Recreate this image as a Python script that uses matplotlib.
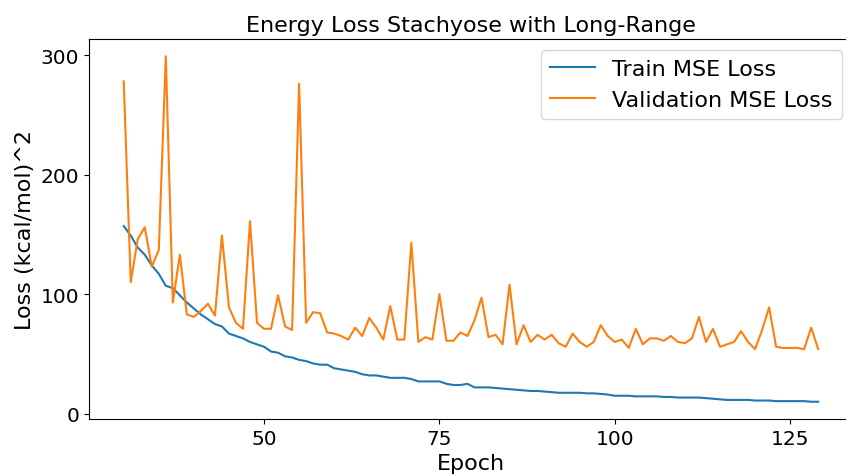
import numpy as np
import matplotlib
matplotlib.use('Agg')
import matplotlib.pyplot as plt
from matplotlib.ticker import MultipleLocator

epochs = np.arange(30, 130)

train_loss = [157, 149, 139, 133, 124, 117, 107, 105, 99, 93,
              88, 83, 79, 75, 73, 67, 65, 63, 60, 58,
              56, 52, 51, 48, 47, 45, 44, 42, 41, 41,
              38, 37, 36, 35, 33, 32, 32, 31, 30, 30,
              30, 29, 27, 27, 27, 27, 25, 24, 24, 25,
              22, 22, 22, 21.5, 21, 20.5, 20, 19.5, 19, 19,
              18.5, 18, 17.5, 17.5, 17.5, 17.5, 17, 17, 16.5, 16,
              15, 15, 15, 14.5, 14.5, 14.5, 14.5, 14, 14, 13.5,
              13.5, 13.5, 13.5, 13, 12.5, 12, 11.5, 11.5, 11.5, 11.5,
              11, 11, 11, 10.5, 10.5, 10.5, 10.5, 10.5, 10, 10]

val_loss = [278, 110, 146, 156, 123, 137, 299, 93, 133, 83,
            81, 86, 92, 82, 149, 89, 76, 71, 161, 76,
            71, 71, 99, 73, 70, 276, 76, 85, 84, 68,
            67, 65, 62, 72, 65, 80, 72, 62, 90, 62,
            62, 143, 60, 64, 62, 100, 61, 61, 68, 65,
            78, 97, 64, 66, 58, 108, 58, 74, 60, 66,
            62, 66, 59, 56, 67, 60, 56, 60, 74, 65,
            60, 62, 55, 71, 58, 63, 63, 61, 65, 60,
            59, 63, 81, 60, 71, 56, 58, 60, 69, 60,
            54, 70, 89, 56, 55, 55, 55, 54, 72, 54]

fig = plt.figure(figsize=(8.46, 4.77), dpi=100)
ax = fig.add_axes([0.1052, 0.1195, 0.903, 0.7966])
ax.plot(epochs, train_loss, label='Train MSE Loss')
ax.plot(epochs, val_loss, label='Validation MSE Loss')
ax.set_xlabel('Epoch', fontsize=16)
ax.set_ylabel('Loss (kcal/mol)^2', fontsize=16)
ax.set_title('Energy Loss Stachyose with Long-Range', fontsize=16)
ax.xaxis.set_major_locator(MultipleLocator(25))
ax.yaxis.set_major_locator(MultipleLocator(100))
ax.tick_params(labelsize=14.5)
ax.legend(loc='upper right', fontsize=16)
fig.savefig('out.png', dpi=100)
